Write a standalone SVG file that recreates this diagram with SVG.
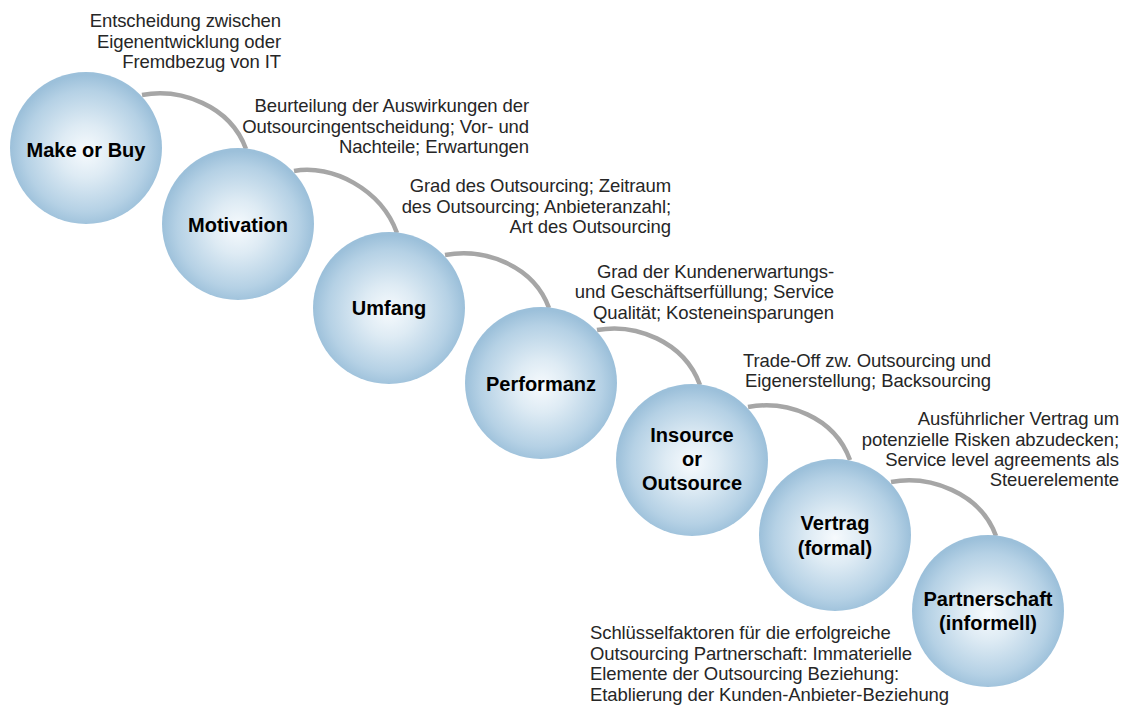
<svg xmlns="http://www.w3.org/2000/svg" width="1122" height="709" viewBox="0 0 1122 709">
<defs>
<radialGradient id="ball" cx="50%" cy="52%" r="50%">
<stop offset="0" stop-color="#f6fafd"/>
<stop offset="0.35" stop-color="#deebf4"/>
<stop offset="0.8" stop-color="#b5d1e5"/>
<stop offset="1" stop-color="#9cc0da"/>
</radialGradient>
<style>
.ball{fill:url(#ball);}
.lbl{font-family:"Liberation Sans",Arial,sans-serif;font-size:20px;font-weight:bold;fill:#000;text-anchor:middle;}
.desc{font-family:"Liberation Sans",Arial,sans-serif;font-size:18.5px;fill:#262626;letter-spacing:-0.1px;text-anchor:end;}
.descl{text-anchor:start;}
.arc{fill:none;stroke:#a6a6a6;stroke-width:4.5;}
</style>
</defs>
<rect width="1122" height="709" fill="#fff"/>
<g id="connectors">
<path class="arc" d="M142,95 C180,88 230,105 246,149"/>
<path class="arc" d="M294,171 C332,164 381,189 397,233"/>
<path class="arc" d="M445,255 C483,248 533,264 549,308"/>
<path class="arc" d="M597,330 C635,323 684,341 700,385"/>
<path class="arc" d="M748,407 C786,400 834,416 850,460"/>
<path class="arc" d="M891,482 C929,475 980,492 996,536"/>
</g>
<g id="node-make-or-buy">
<circle class="ball" cx="86" cy="148" r="76"/>
<text class="lbl" x="86" y="157">Make or Buy</text>
</g>
<g id="node-motivation">
<circle class="ball" cx="238" cy="224" r="76"/>
<text class="lbl" x="238" y="232">Motivation</text>
</g>
<g id="node-umfang">
<circle class="ball" cx="389" cy="308" r="76"/>
<text class="lbl" x="389" y="315">Umfang</text>
</g>
<g id="node-performanz">
<circle class="ball" cx="541" cy="383" r="76"/>
<text class="lbl" x="541" y="391">Performanz</text>
</g>
<g id="node-insource">
<circle class="ball" cx="692" cy="460" r="76"/>
<text class="lbl" x="692" y="442">Insource</text>
<text class="lbl" x="692" y="466">or</text>
<text class="lbl" x="692" y="490">Outsource</text>
</g>
<g id="node-vertrag">
<circle class="ball" cx="835" cy="535" r="76"/>
<text class="lbl" x="835" y="530">Vertrag</text>
<text class="lbl" x="835" y="555">(formal)</text>
</g>
<g id="node-partnerschaft">
<circle class="ball" cx="988" cy="611" r="76"/>
<text class="lbl" x="988" y="606">Partnerschaft</text>
<text class="lbl" x="988" y="630">(informell)</text>
</g>
<g id="descriptions">
<text class="desc" x="281" y="27">Entscheidung zwischen</text>
<text class="desc" x="281" y="48">Eigenentwicklung oder</text>
<text class="desc" x="281" y="68">Fremdbezug von IT</text>
<text class="desc" x="529" y="112">Beurteilung der Auswirkungen der</text>
<text class="desc" x="529" y="133">Outsourcingentscheidung; Vor- und</text>
<text class="desc" x="529" y="153">Nachteile; Erwartungen</text>
<text class="desc" x="671" y="192">Grad des Outsourcing; Zeitraum</text>
<text class="desc" x="671" y="213">des Outsourcing; Anbieteranzahl;</text>
<text class="desc" x="671" y="233">Art des Outsourcing</text>
<text class="desc" x="834" y="278">Grad der Kundenerwartungs-</text>
<text class="desc" x="834" y="298">und Geschäftserfüllung; Service</text>
<text class="desc" x="834" y="319">Qualität; Kosteneinsparungen</text>
<text class="desc" x="991" y="367">Trade-Off zw. Outsourcing und</text>
<text class="desc" x="991" y="387">Eigenerstellung; Backsourcing</text>
<text class="desc" x="1119" y="425">Ausführlicher Vertrag um</text>
<text class="desc" x="1119" y="446">potenzielle Risken abzudecken;</text>
<text class="desc" x="1119" y="466">Service level agreements als</text>
<text class="desc" x="1119" y="486">Steuerelemente</text>
<text class="desc descl" x="590" y="639">Schlüsselfaktoren für die erfolgreiche</text>
<text class="desc descl" x="590" y="660">Outsourcing Partnerschaft: Immaterielle</text>
<text class="desc descl" x="590" y="680">Elemente der Outsourcing Beziehung:</text>
<text class="desc descl" x="590" y="701">Etablierung der Kunden-Anbieter-Beziehung</text>
</g>
</svg>
